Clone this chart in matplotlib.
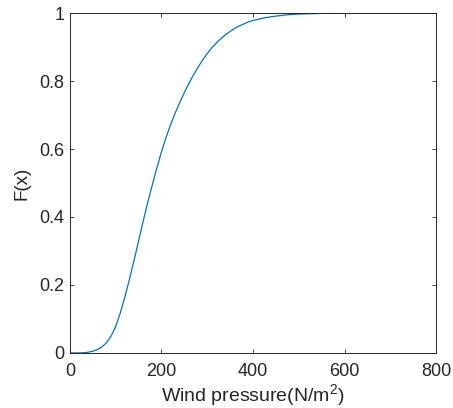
import matplotlib
matplotlib.use('Agg')
import matplotlib.pyplot as plt

# values (wind pressure vs. cumulative probability)
pressure = [0, 20, 30, 40, 50, 60, 70, 80, 90, 100, 110, 120, 130, 140, 150,
            160, 170, 180, 190, 200, 210, 220, 230, 240, 250, 260, 270, 280,
            290, 300, 310, 320, 330, 340, 350, 360, 370, 380, 390, 400, 425,
            450, 475, 500, 550, 600, 800]
cdf = [0.0, 0.0, 0.0005, 0.002, 0.005, 0.01, 0.018, 0.03, 0.05, 0.078,
       0.118, 0.165, 0.217, 0.272, 0.33, 0.388, 0.443, 0.495, 0.545, 0.592,
       0.634, 0.672, 0.706, 0.737, 0.766, 0.793, 0.818, 0.841, 0.862, 0.881,
       0.898, 0.912, 0.925, 0.936, 0.946, 0.955, 0.962, 0.968, 0.974, 0.978,
       0.986, 0.991, 0.995, 0.997, 0.999, 1.0, 1.0]

xticks = [0, 200, 400, 600, 800]
yticks = [0, 0.2, 0.4, 0.6, 0.8, 1]
ytick_labels = ['0', '0.2', '0.4', '0.6', '0.8', '1']

plt.rcParams['font.family'] = ['Liberation Sans', 'DejaVu Sans']
plt.rcParams['mathtext.fontset'] = 'custom'
plt.rcParams['mathtext.rm'] = 'Liberation Sans'
plt.rcParams['mathtext.it'] = 'Liberation Sans:italic'

fig = plt.figure(figsize=(4.53, 4.08), dpi=100)
ax = fig.add_axes([0.1545, 0.135, 0.808, 0.833])

ax.plot(pressure, cdf, color='#0072BD', lw=0.9)

ax.set_xlim(0, 800)
ax.set_ylim(0, 1)
ax.set_xticks(xticks)
ax.set_yticks(yticks)
ax.set_yticklabels(ytick_labels)
ax.tick_params(direction='in', length=3, width=0.6, top=True, right=True,
               labelsize=13, colors='#262626')
ax.tick_params(axis='x', pad=7)
ax.tick_params(axis='y', pad=4)
for s in ax.spines.values():
    s.set_color('#262626')
    s.set_linewidth(0.7)

ax.set_xlabel(r'Wind pressure(N/m$^2$)', fontsize=14, color='#262626', labelpad=2)
ax.set_ylabel('F(x)', fontsize=13.5, color='#262626', labelpad=6)

fig.savefig('out.png', dpi=100)
